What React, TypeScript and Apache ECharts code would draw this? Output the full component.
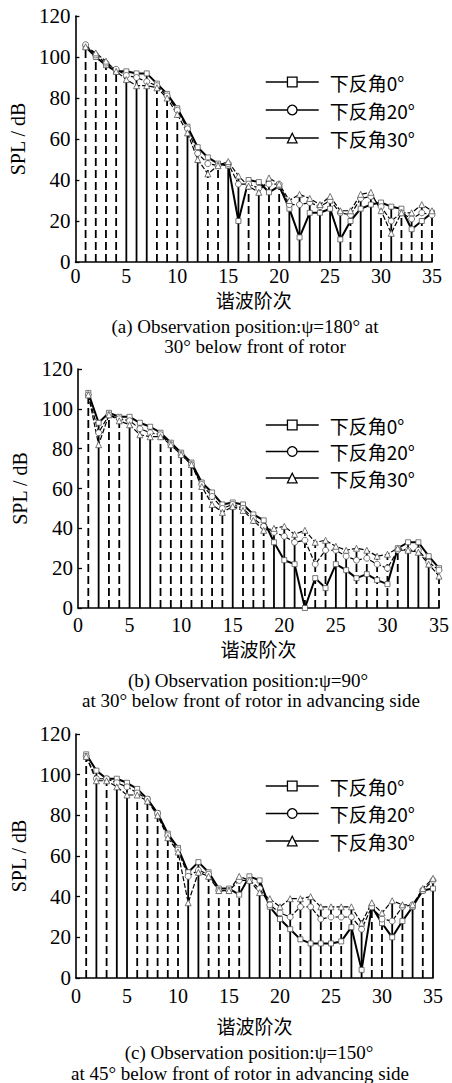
import React, { useEffect, useRef } from 'react';
import * as echarts from 'echarts';

const harmonics = [1,2,3,4,5,6,7,8,9,10,11,12,13,14,15,16,17,18,19,20,21,22,23,24,25,26,27,28,29,30,31,32,33,34,35];
const seriesNames = ['下反角0°', '下反角20°', '下反角30°'];
const symbols = ['rect', 'circle', 'triangle'];

// Panel (a)
const a0 = [105,100,96,93,93,92,92,87,82,75,66,56,51,48,47,20,40,39,34,37,26,12,24,24,26,11,20,26,28,29,27,26,16,20,24];
const a20 = [106,101,97,94,91,90,88,86,81,74,65,53,48,47,48,38,38,36,38,38,28,28,29,27,30,24,23,31,32,27,20,24,21,24,23];
const a30 = [105,102,98,93,89,86,86,85,80,72,63,50,43,47,49,42,37,34,41,38,30,33,31,28,32,25,25,33,34,25,14,24,24,28,25];
const aStemDashed = [1,1,1,1,0,0,0,1,1,1,0,0,1,1,0,0,1,0,1,1,0,0,0,0,0,0,1,0,0,1,0,1,1,1,1];

// Panel (b)
const b0 = [108,93,98,96,96,93,91,88,83,78,73,63,58,52,53,52,47,44,33,24,22,0,15,10,22,19,15,17,14,12,30,33,33,26,20];
const b20 = [107,88,97,95,94,90,88,87,82,77,72,62,56,50,52,50,45,41,38,36,33,34,22,29,29,26,24,25,22,20,29,29,29,23,19];
const b30 = [107,82,97,94,92,87,86,86,82,77,72,61,52,48,51,49,44,39,40,41,37,39,33,34,31,29,30,29,26,27,30,29,28,22,16];
const bStemDashed = [1,0,1,1,0,0,0,1,1,1,1,1,1,1,0,1,1,1,0,0,0,1,1,1,0,0,1,1,1,1,1,0,0,0,1];

// Panel (c)
const c0 = [110,102,98,98,96,93,88,81,71,64,52,57,52,44,44,41,50,48,35,29,24,19,17,17,17,18,25,4,35,27,20,28,35,43,44];
const c20 = [109,98,98,96,94,91,88,81,70,63,50,53,51,43,43,48,48,44,36,32,30,35,35,29,30,30,30,24,35,29,28,35,36,43,48];
const c30 = [109,97,97,94,90,90,87,80,69,62,37,52,50,43,43,50,48,42,39,35,39,39,40,35,35,35,35,27,37,32,38,36,36,44,49];
const cStemDashed = [1,0,1,0,0,1,1,1,1,1,0,0,1,1,1,1,0,0,0,1,0,1,0,1,1,1,0,0,1,1,0,1,0,1,0];

const captions = [
  ['(a) Observation position:ψ=180° at', '30° below front of rotor'],
  ['(b) Observation position:ψ=90°', 'at 30° below front of rotor in advancing side'],
  ['(c) Observation position:ψ=150°', 'at 45° below front of rotor in advancing side'],
];

const SERIF = '"Liberation Serif", "Times New Roman", serif';
const CJK = 'Noto Sans CJK SC';

const panels = [
  { data: [a0, a20, a30], stems: aStemDashed, grid: { left: 74, top: 16, width: 358, height: 246 }, labelMargin: 4, nameGap: 28, yNameGap: 44, legendTop: 67, legendGap: 8, cap: [[245, 326], [255, 346]] },
  { data: [b0, b20, b30], stems: bStemDashed, grid: { left: 78, top: 369, width: 362, height: 239 }, labelMargin: 7, nameGap: 31, yNameGap: 48, legendTop: 410, legendGap: 6.5, cap: [[248, 680], [251, 700]] },
  { data: [c0, c20, c30], stems: cStemDashed, grid: { left: 76, top: 734, width: 357, height: 244 }, labelMargin: 8, nameGap: 38, yNameGap: 46, legendTop: 771, legendGap: 7.5, cap: [[249, 1052], [240, 1073]] },
];

export default function App() {
  const ref = useRef<HTMLDivElement>(null);
  useEffect(() => {
    if (!ref.current) return;
    const chart = echarts.init(ref.current, null, { renderer: 'svg' });
    const grids: any[] = [];
    const xAxes: any[] = [];
    const yAxes: any[] = [];
    const series: any[] = [];
    const legends: any[] = [];
    const graphics: any[] = [];
    panels.forEach((p, g) => {
      grids.push({ ...p.grid, containLabel: false });
      xAxes.push({
        type: 'value', gridIndex: g, min: 0, max: 35, interval: 5,
        axisLine: { show: true, onZero: false, lineStyle: { color: '#000', width: 1.6 } },
        axisTick: { show: false }, splitLine: { show: false },
        axisLabel: { color: '#000', fontSize: 20, fontFamily: SERIF, margin: p.labelMargin },
        name: '谐波阶次', nameLocation: 'middle', nameGap: p.nameGap,
        nameTextStyle: { color: '#000', fontSize: 19, fontFamily: CJK },
      });
      yAxes.push({
        type: 'value', gridIndex: g, min: 0, max: 120, interval: 20,
        axisLine: { show: true, lineStyle: { color: '#000', width: 1.6 } },
        axisTick: { show: true, inside: true, length: 4, lineStyle: { color: '#000', width: 1.3 } },
        splitLine: { show: false },
        axisLabel: { color: '#000', fontSize: 21, fontFamily: SERIF, margin: 5 },
        name: 'SPL / dB', nameLocation: 'middle', nameGap: p.yNameGap,
        nameTextStyle: { color: '#000', fontSize: 20, fontFamily: SERIF },
      });
      const stemData = harmonics.map((h, i) => [h, Math.max(p.data[0][i], p.data[1][i], p.data[2][i]), p.stems[i]]);
      series.push({
        type: 'custom', xAxisIndex: g, yAxisIndex: g, z: 1, silent: true,
        data: stemData,
        encode: { x: 0, y: 1 },
        renderItem: (params: any, api: any) => {
          const x = api.value(0);
          const top = api.value(1);
          const dashed = api.value(2);
          const p1 = api.coord([x, 0]);
          const p2 = api.coord([x, top]);
          return {
            type: 'line',
            shape: { x1: p1[0], y1: p1[1], x2: p2[0], y2: p2[1] },
            style: { stroke: '#000', lineWidth: 1.8, lineDash: dashed ? [8, 4] : null },
          };
        },
      });
      p.data.forEach((vals, k) => {
        series.push({
          type: 'line', name: seriesNames[k], xAxisIndex: g, yAxisIndex: g, z: 3,
          data: harmonics.map((h, i) => [h, vals[i]]),
          symbol: symbols[k], symbolSize: k === 0 ? 5 : 6, showSymbol: true,
          lineStyle: { color: '#000', width: k === 0 ? 2 : 1.2, type: k === 0 ? 'solid' : [5, 2] },
          itemStyle: { color: '#fff', borderColor: '#555', borderWidth: 0.8 },
          emphasis: { disabled: true },
        });
      });
      legends.push({
        orient: 'vertical', left: 260, top: p.legendTop, itemGap: p.legendGap,
        itemWidth: 53, itemHeight: 12, selectedMode: false,
        data: seriesNames,
        textStyle: { color: '#000', fontSize: 19, fontFamily: CJK, lineHeight: 20, padding: [0, 0, 0, 6] },
        lineStyle: { color: '#000', width: 1.5, type: 'solid' },
        itemStyle: { color: '#fff', borderColor: '#000', borderWidth: 1.3 },
      });
      p.cap.forEach((c, j) => {
        graphics.push({
          type: 'text', x: c[0], y: c[1],
          style: { text: captions[g][j], fill: '#000', fontSize: 19, fontFamily: SERIF, align: 'center', verticalAlign: 'middle' },
        });
      });
    });
    chart.setOption({
      animation: false,
      backgroundColor: '#fff',
      grid: grids,
      xAxis: xAxes,
      yAxis: yAxes,
      legend: legends,
      series,
      graphic: graphics,
    });
    return () => chart.dispose();
  }, []);
  return <div ref={ref} style={{ position: 'absolute', left: 0, top: 0, width: 452, height: 1083 }} />;
}
